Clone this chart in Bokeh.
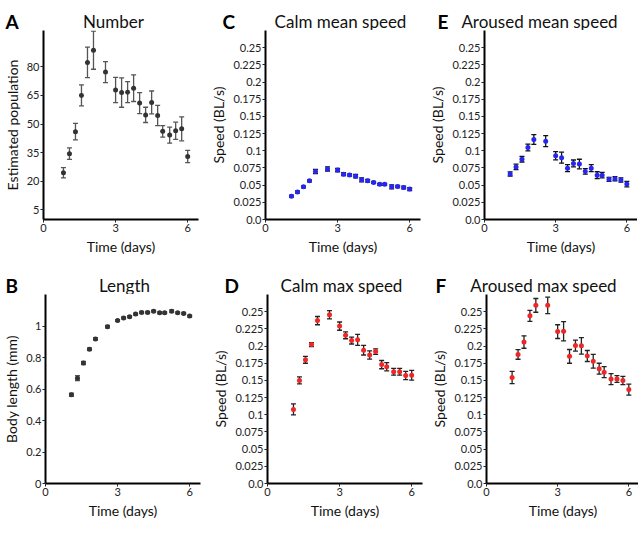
from bokeh.plotting import figure
from bokeh.layouts import column, row
from bokeh.models import ColumnDataSource, Whisker, TeeHead, FixedTicker, Range1d
from bokeh.core.properties import value
from bokeh.embed import file_html
from bokeh.resources import INLINE

# ---------------- data ----------------
time_a = [0.83, 1.08, 1.33, 1.58, 1.83, 2.08, 2.58, 3.0, 3.25, 3.5, 3.75, 4.0,
          4.25, 4.5, 4.75, 4.96, 5.25, 5.5, 5.75, 6.0]
time = [1.08, 1.33, 1.58, 1.83, 2.08, 2.58, 3.0, 3.25, 3.5, 3.75, 4.0,
        4.25, 4.5, 4.75, 4.96, 5.25, 5.5, 5.75, 6.0]

number = [24.5, 34.5, 46, 65, 82.3, 88.7, 77.2, 67.8, 66.5, 66.7, 68.8, 61,
          54.8, 61.3, 54.5, 46.2, 44.2, 46.5, 47.5, 33]
number_err = [2.7, 3, 4.3, 5.5, 8, 10, 5.5, 6.6, 7.7, 5.5, 7, 5.5,
              4, 6, 5.3, 3, 4.2, 4.5, 6.3, 3.2]

length = [0.563, 0.669, 0.765, 0.853, 0.918, 0.996, 1.035, 1.051, 1.059, 1.076,
          1.086, 1.086, 1.094, 1.084, 1.084, 1.094, 1.084, 1.08, 1.063]
length_err = [0.01, 0.015, 0.01, 0.008, 0.008, 0.008, 0.006, 0.006, 0.006, 0.006,
              0.006, 0.006, 0.006, 0.006, 0.006, 0.008, 0.006, 0.006, 0.006]

calm_mean = [0.034, 0.040, 0.0475, 0.0563, 0.0698, 0.0736, 0.072, 0.066, 0.0647,
             0.063, 0.0577, 0.0563, 0.054, 0.0512, 0.0512, 0.0475, 0.048, 0.0466, 0.0442]
calm_mean_err = [0.0015, 0.0015, 0.0015, 0.0015, 0.003, 0.003, 0.0025, 0.002, 0.0015,
                 0.0025, 0.003, 0.002, 0.0015, 0.0015, 0.0015, 0.003, 0.0015, 0.002, 0.002]

aroused_mean = [0.0663, 0.0765, 0.0877, 0.1048, 0.1164, 0.114, 0.0928, 0.09, 0.0747,
                0.0816, 0.0807, 0.07, 0.0747, 0.0645, 0.0645, 0.0584, 0.0594, 0.0575, 0.0515]
aroused_mean_err = [0.003, 0.004, 0.004, 0.005, 0.007, 0.008, 0.006, 0.008, 0.005,
                    0.005, 0.007, 0.004, 0.005, 0.005, 0.004, 0.003, 0.003, 0.003, 0.004]

calm_max = [0.1078, 0.150, 0.180, 0.2021, 0.237, 0.2454, 0.229, 0.2156, 0.208, 0.209,
            0.194, 0.187, 0.192, 0.173, 0.170, 0.1626, 0.1626, 0.157, 0.1575]
calm_max_err = [0.008, 0.005, 0.005, 0.003, 0.006, 0.006, 0.006, 0.005, 0.005, 0.008,
                0.007, 0.006, 0.004, 0.006, 0.006, 0.005, 0.005, 0.006, 0.007]

aroused_max = [0.1542, 0.1878, 0.2058, 0.244, 0.2592, 0.2592, 0.221, 0.2215, 0.185,
               0.2007, 0.2003, 0.1855, 0.178, 0.167, 0.162, 0.152, 0.152, 0.150, 0.1367]
aroused_max_err = [0.009, 0.007, 0.009, 0.008, 0.01, 0.012, 0.01, 0.014, 0.01, 0.008,
                   0.012, 0.008, 0.01, 0.008, 0.008, 0.008, 0.005, 0.006, 0.008]

x_ticks = [0, 3, 6]
number_ticks = [5, 20, 35, 50, 65, 80]
length_ticks = [0, 0.2, 0.4, 0.6, 0.8, 1.0]
length_tick_labels = ["0", "0.2", "0.4", "0.6", "0.8", "1"]
speed_ticks = [0, 0.025, 0.05, 0.075, 0.1, 0.125, 0.15, 0.175, 0.2, 0.225, 0.25]
speed_tick_labels = ["0.0", "0.025", "0.05", "0.075", "0.1", "0.125", "0.15",
                     "0.175", "0.2", "0.225", "0.25"]

FONT = "Lato"
FRAME_H = 189
HEADER_H = 30
BASELINE = 9          # text baseline height inside header strip

# column geometry: (border_left, frame_width, border_right)
COLS = [(40, 155, 9), (52, 155, 6), (52, 153, 0)]


def header(letter, letter_x, title, title_x, col):
    bl, fw, br = COLS[col]
    w = bl + fw + br
    h = figure(width=w, height=HEADER_H, x_range=Range1d(0, w),
               y_range=Range1d(0, HEADER_H), x_axis_type=None, y_axis_type=None,
               toolbar_location=None, output_backend="svg", title=None,
               min_border_left=0, min_border_right=0, min_border_top=0,
               min_border_bottom=0)
    h.outline_line_color = None
    h.background_fill_color = "white"
    h.border_fill_color = "white"
    h.text(x=[letter_x], y=[BASELINE], text=[letter], text_font=value(FONT),
           text_font_style="bold", text_font_size="19px", text_color="black",
           text_align="left", text_baseline="alphabetic")
    h.text(x=[title_x], y=[BASELINE], text=[title], text_font=value(FONT),
           text_font_style="normal", text_font_size="17px", text_color="#111111",
           text_align="center", text_baseline="alphabetic")
    return h


def panel(xs, ys, errs, color, wcolor, y_end, ticks, tick_labels, ylabel, col, bb):
    bl, fw, br = COLS[col]
    p = figure(frame_width=fw, frame_height=FRAME_H, output_backend="svg",
               toolbar_location=None, x_range=Range1d(0, 6.45),
               y_range=Range1d(0, y_end), min_border_left=bl, min_border_right=br,
               min_border_top=0, min_border_bottom=bb, title=None)
    p.outline_line_color = None
    p.grid.visible = False
    p.background_fill_color = "white"
    p.border_fill_color = "white"

    src = ColumnDataSource(dict(x=xs, y=ys,
                                lo=[a - b for a, b in zip(ys, errs)],
                                hi=[a + b for a, b in zip(ys, errs)]))
    w = Whisker(source=src, base="x", lower="lo", upper="hi", dimension="height",
                line_color=wcolor, line_width=1.3,
                lower_head=TeeHead(size=5, line_color=wcolor, line_width=1.3),
                upper_head=TeeHead(size=5, line_color=wcolor, line_width=1.3))
    p.add_layout(w)
    p.scatter("x", "y", source=src, size=5, color=color, line_width=0)

    for ax in (p.xaxis[0], p.yaxis[0]):
        ax.axis_line_width = 2
        ax.axis_line_color = "black"
        ax.major_tick_line_color = "#222222"
        ax.major_tick_out = 3
        ax.major_tick_in = 0
        ax.minor_tick_line_color = None
        ax.major_label_text_font = FONT
        ax.major_label_text_font_size = "11px"
        ax.major_label_text_color = "#222222"
        ax.major_label_standoff = 1
        ax.axis_label_text_font = FONT
        ax.axis_label_text_font_size = "14px"
        ax.axis_label_text_font_style = "normal"
        ax.axis_label_text_color = "#111111"
        ax.axis_label_standoff = 3
    p.xaxis.ticker = FixedTicker(ticks=x_ticks)
    p.xaxis.axis_label = "Time (days)"
    p.yaxis.ticker = FixedTicker(ticks=ticks)
    if tick_labels is not None:
        p.yaxis.major_label_overrides = {t: l for t, l in zip(ticks, tick_labels)}
    p.yaxis.axis_label = ylabel
    return p


ROW1_BB = 45
ROW2_BB = 35

ha = header("A", 5, "Number", 113, 0)
hc = header("C", 18, "Calm mean speed", 136, 1)
he = header("E", 20, "Aroused mean speed", 122, 2)
hb = header("B", 5, "Length", 124, 0)
hd = header("D", 20, "Calm max speed", 137, 1)
hf = header("F", 18, "Aroused max speed", 126, 2)

pa = panel(time_a, number, number_err, "#333333", "#555555", 99,
           number_ticks, None, "Estimated population", 0, ROW1_BB)
pc = panel(time, calm_mean, calm_mean_err, "#2626ee", "#111111", 0.275,
           speed_ticks, speed_tick_labels, "Speed (BL/s)", 1, ROW1_BB)
pe = panel(time, aroused_mean, aroused_mean_err, "#2626ee", "#111111", 0.275,
           speed_ticks, speed_tick_labels, "Speed (BL/s)", 2, ROW1_BB)
pb = panel(time, length, length_err, "#333333", "#555555", 1.2,
           length_ticks, length_tick_labels, "Body length (mm)", 0, ROW2_BB)
pd = panel(time, calm_max, calm_max_err, "#ee2626", "#222222", 0.275,
           speed_ticks, speed_tick_labels, "Speed (BL/s)", 1, ROW2_BB)
pf = panel(time, aroused_max, aroused_max_err, "#ee2626", "#222222", 0.275,
           speed_ticks, speed_tick_labels, "Speed (BL/s)", 2, ROW2_BB)

layout = column(row(ha, hc, he), row(pa, pc, pe),
                row(hb, hd, hf), row(pb, pd, pf))
open("out.html", "w").write(file_html(layout, INLINE))
